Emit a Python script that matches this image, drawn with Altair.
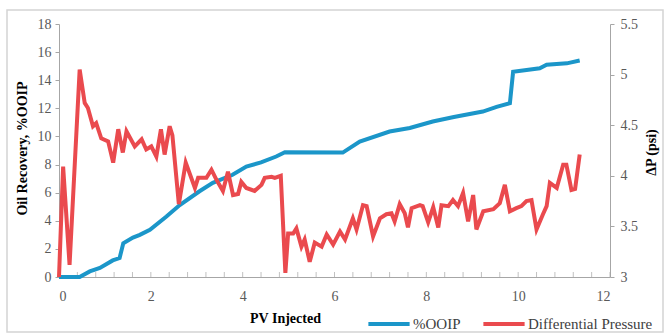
import altair as alt
import pandas as pd

# %OOIP recovery curve (left axis)
ooip_pv = [0, 0.45, 0.67, 0.89, 1.17, 1.32, 1.40, 1.61, 1.76, 1.98, 2.34, 2.63,
           3.06, 3.35, 3.78, 4.08, 4.40, 4.73, 4.92, 6.18, 6.55, 7.20, 7.64,
           8.14, 8.60, 9.23, 9.53, 9.82, 9.89, 10.47, 10.62, 11.06, 11.34]
ooip_pct = [0, 0, 0.40, 0.64, 1.18, 1.35, 2.40, 2.80, 3.00, 3.36, 4.30, 5.12,
            6.10, 6.70, 7.27, 7.86, 8.15, 8.57, 8.88, 8.85, 9.64, 10.35, 10.60,
            11.06, 11.38, 11.77, 12.10, 12.37, 14.60, 14.85, 15.10, 15.20, 15.40]

# Differential pressure trace (right axis)
dp_pv = [0, 0.09, 0.23, 0.45, 0.56, 0.63, 0.74, 0.81, 0.92, 1.07, 1.18, 1.29,
         1.39, 1.47, 1.65, 1.80, 1.90, 2.01, 2.12, 2.22, 2.30, 2.41, 2.47, 2.61,
         2.76, 2.96, 3.03, 3.21, 3.32, 3.43, 3.57, 3.68, 3.79, 3.90, 3.97, 4.08,
         4.26, 4.41, 4.48, 4.63, 4.70, 4.83, 4.93, 4.99, 5.10, 5.17, 5.28, 5.35,
         5.46, 5.57, 5.72, 5.83, 5.97, 6.12, 6.23, 6.40, 6.48, 6.62, 6.70, 6.84,
         6.99, 7.13, 7.24, 7.31, 7.42, 7.53, 7.60, 7.68, 7.86, 7.92, 8.04, 8.15,
         8.26, 8.33, 8.48, 8.58, 8.69, 8.80, 8.91, 9.02, 9.09, 9.24, 9.46, 9.60,
         9.71, 9.82, 9.96, 10.07, 10.18, 10.29, 10.40, 10.54, 10.62, 10.69,
         10.84, 10.98, 11.05, 11.16, 11.24, 11.34]
dp_psi = [3.00, 4.09, 3.12, 5.05, 4.72, 4.67, 4.49, 4.52, 4.37, 4.34, 4.13, 4.46,
          4.23, 4.44, 4.29, 4.36, 4.26, 4.29, 4.19, 4.46, 4.21, 4.49, 4.40, 3.72,
          4.13, 3.88, 3.98, 3.98, 4.06, 3.96, 3.85, 4.04, 3.81, 3.82, 3.94, 3.88,
          3.85, 3.91, 3.98, 3.99, 3.98, 4.00, 3.04, 3.43, 3.43, 3.48, 3.30, 3.37,
          3.15, 3.34, 3.30, 3.42, 3.32, 3.45, 3.37, 3.58, 3.47, 3.71, 3.70, 3.40,
          3.58, 3.62, 3.63, 3.55, 3.72, 3.63, 3.49, 3.68, 3.71, 3.70, 3.54, 3.69,
          3.49, 3.71, 3.70, 3.76, 3.70, 3.83, 3.55, 3.81, 3.47, 3.65, 3.67, 3.73,
          3.91, 3.65, 3.68, 3.70, 3.75, 3.76, 3.47, 3.62, 3.70, 3.93,
          3.88, 4.11, 4.11, 3.86, 3.87, 4.21]

# Minor tick positions along the PV axis
pv_ticks = [0, 0.4, 0.8, 1.2, 1.6, 2, 2.4, 2.8, 3.2, 3.6, 4, 4.4, 4.8, 5.2, 5.6,
            6, 6.4, 6.8, 7.2, 7.6, 8, 8.4, 8.8, 9.2, 9.6, 10, 10.4, 10.8, 11.2,
            11.6, 12]

left_ticks = [0, 2, 4, 6, 8, 10, 12, 14, 16, 18]
right_ticks = [3, 3.5, 4, 4.5, 5, 5.5]

series_names = ["%OOIP", "Differential Pressure"]
series_colors = ["#1b96c9", "#ea4a4e"]

FONT = "Liberation Serif"
AXIS_GRAY = "#a6a6a6"
LABEL_GRAY = "#595959"
W, H = 551, 253

ooip_df = pd.DataFrame({"pv": ooip_pv, "val": ooip_pct})
dp_df = pd.DataFrame({"pv": dp_pv, "val": dp_psi})
tick_df = pd.DataFrame({"pv": pv_ticks})

x_scale = alt.Scale(domain=[0, 12], nice=False, zero=False)
color_scale = alt.Scale(domain=series_names, range=series_colors)

x_axis = alt.Axis(
    values=[0, 2, 4, 6, 8, 10, 12], ticks=False, grid=False,
    domainColor=AXIS_GRAY, labelColor=LABEL_GRAY, labelPadding=12,
    title="PV Injected", titleFontWeight="bold", titleColor="#000000",
    titleX=226, titleY=34, titleAlign="center", titleBaseline="top",
)

# light outer border around the whole figure
frame = alt.Chart(pd.DataFrame({"k": [0]})).mark_rect(
    fill="#ffffff", fillOpacity=0, stroke="#d4d4d4", strokeWidth=1.5
).encode(
    x=alt.value(-52), x2=alt.value(604), y=alt.value(-14), y2=alt.value(308)
)

minor = alt.Chart(tick_df).mark_tick(
    color=AXIS_GRAY, size=5, thickness=1
).encode(
    x=alt.X("pv:Q", scale=x_scale, axis=x_axis),
    y=alt.value(H - 2.5),
)

ooip = alt.Chart(ooip_df).mark_line(strokeWidth=4).encode(
    x=alt.X("pv:Q", scale=x_scale, axis=x_axis),
    y=alt.Y(
        "val:Q", scale=alt.Scale(domain=[0, 18], nice=False),
        axis=alt.Axis(
            values=left_ticks, orient="left", grid=False,
            domainColor=AXIS_GRAY, tickColor=AXIS_GRAY, tickSize=4,
            labelColor=LABEL_GRAY, labelPadding=4,
            title="Oil Recovery, %OOIP", titleFontWeight="bold",
            titleColor="#000000",
            titleX=-37, titleY=124, titleAngle=270, titleAlign="center",
            titleBaseline="middle",
        ),
    ),
    color=alt.Color(
        "s:N", scale=color_scale,
        legend=alt.Legend(
            title=None, orient="none", legendX=307, legendY=277,
            direction="horizontal", symbolType="stroke",
            symbolSize=1700, symbolStrokeWidth=4, labelOffset=1,
            columnPadding=14, labelColor="#404040",
        ),
    ),
    order=alt.Order("pv:Q"),
).transform_calculate(s="'%OOIP'")

dp = alt.Chart(dp_df).mark_line(strokeWidth=4).encode(
    x=alt.X("pv:Q", scale=x_scale, axis=x_axis),
    y=alt.Y(
        "val:Q", scale=alt.Scale(domain=[3, 5.5], nice=False, zero=False),
        axis=alt.Axis(
            values=right_ticks, orient="right", grid=False, format="~g",
            domainColor=AXIS_GRAY, tickColor=AXIS_GRAY, tickSize=4,
            labelColor=LABEL_GRAY, labelPadding=6,
            title="ΔP (psi)", titleFontWeight="bold", titleColor="#000000",
            titleX=41, titleY=128, titleAngle=270, titleAlign="center",
            titleBaseline="middle",
        ),
    ),
    color=alt.Color("s:N", scale=color_scale),
    order=alt.Order("pv:Q"),
).transform_calculate(s="'Differential Pressure'")

chart = (
    alt.layer(frame, minor, ooip, dp)
    .resolve_scale(y="independent")
    .properties(
        width=W, height=H,
        autosize=alt.AutoSizeParams(type="none"),
        padding={"left": 59, "top": 24, "right": 667 - 59 - W, "bottom": 336 - 24 - H},
        background="#ffffff",
    )
    .configure_view(stroke=None)
    .configure_axis(labelFont=FONT, titleFont=FONT, labelFontSize=14, titleFontSize=14)
    .configure_legend(labelFont=FONT, labelFontSize=15)
    .configure_text(font=FONT)
)

chart.save("out.html", embed_options={"renderer": "svg", "actions": False})
